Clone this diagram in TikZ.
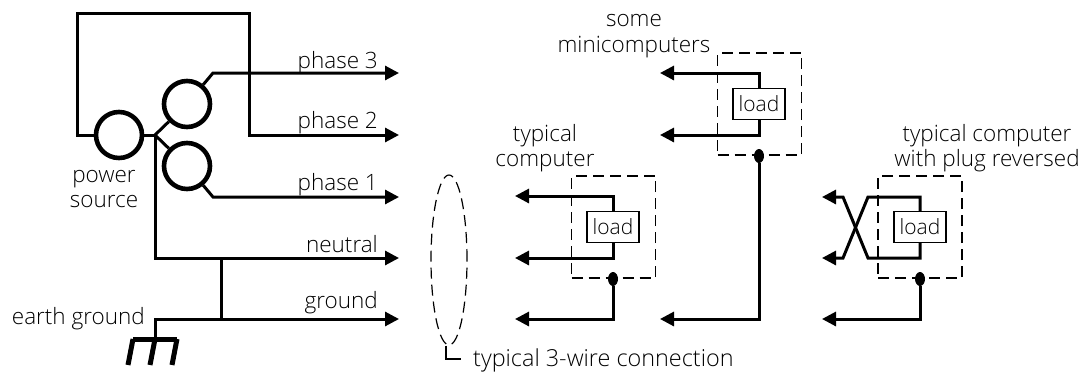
\documentclass[tikz,border=0pt]{standalone}
\usepackage{fontspec}
\setmainfont{Open Sans Light}
\usetikzlibrary{arrows.meta,shapes.geometric}

\begin{document}
\begin{tikzpicture}[
x=1pt,
y=-1pt,
wire/.style={
  line width=3pt
  },
source/.style={
  draw,
  circle,
  line width=4.6pt,
  minimum size=46pt,
  inner sep=0pt
  },
loadbox/.style={
  draw,
  fill=white,
  line width=1.2pt,
  minimum width=52pt,
  minimum height=31pt,
  inner sep=0pt,
  font=\fontsize{21}{21}\selectfont
  },
enclosure/.style={
  draw,
  dash pattern=on 11pt off 6pt,
  line width=1.2pt,
  minimum width=84pt,
  minimum height=102pt
  },
bond/.style={
  fill,
  ellipse,
  minimum width=10pt,
  minimum height=14pt,
  inner sep=0pt
  },
lbl/.style={
  font=\fontsize{22.5}{25.5}\selectfont,
  align=center,
  inner sep=0pt
  },
linelbl/.style={
  lbl,
  anchor=base east
  },
>={Triangle[length=14pt,width=14pt]}
]
\useasboundingbox (0,0) rectangle (1083,372);

% supply side
\node[source] (src) at (119,135) {};
\node[source] (coil3) at (187,104) {};
\node[source] (coil1) at (187,166) {};
\coordinate (star) at (155,135);
\coordinate (topl) at (77,13);
\coordinate (topr) at (249,13);
\coordinate (kn3) at (213,73);
\coordinate (kn1) at (213,197);
\coordinate (tap) at (221,258);
\coordinate (gnd) at (155,319);
\coordinate (earth) at (155,339);
\coordinate (out3) at (399,73);
\coordinate (out2) at (399,135);
\coordinate (out1) at (399,197);
\coordinate (outn) at (399,258);
\coordinate (outg) at (399,319);

\draw[wire,->] (src) -| (topl) -- (topr) |- (out2);
\draw[wire] (src) -- (star);
\draw[wire] (star) -- (coil3);
\draw[wire] (star) -- (coil1);
\draw[wire,->] (coil3) -- (kn3) -- (out3);
\draw[wire,->] (coil1) -- (kn1) -- (out1);
\draw[wire,->] (star) |- (outn);
\draw[wire,->] (earth) -- (gnd) -- (outg);
\draw[wire] (tap) -- (tap |- gnd);

% earth symbol
\coordinate (rake1) at (133,339);
\coordinate (rake2) at (155,339);
\coordinate (rake3) at (177,339);
\draw[line width=5pt] (rake1) -- (rake3);
\draw[line width=5pt] (rake1) -- ++(-5,26);
\draw[line width=5pt] (rake2) -- ++(-5,26);
\draw[line width=5pt] (rake3) -- ++(-5,26);

\node[linelbl] (ph3) at (378,68) {phase 3};
\node[linelbl] (ph2) at (378,128) {phase 2};
\node[linelbl] (ph1) at (378,190) {phase 1};
\node[linelbl] (neu) at (378,252) {neutral};
\node[linelbl] (grd) at (378,308) {ground};
\node[linelbl] (ear) at (145,324) {earth ground};
\node[lbl] (pow) at (104,189) {power\\source};

% the three loads
\foreach \nm/\lx/\tip/\ly in {typ/613/515/227,mini/759/660/104}
{
  \node[enclosure] (box\nm) at (\lx+.5,\ly) {};
  \node[loadbox] (load\nm) at (\lx,\ly) {load};
  \node[bond] (dot\nm) at (\lx,\ly+52) {};
  \coordinate (hi\nm) at (\tip,\ly-31);
  \coordinate (lo\nm) at (\tip,\ly+31);
  \coordinate (pe\nm) at (\tip,319);
  \draw[wire,->] (load\nm) |- (hi\nm);
  \draw[wire,->] (load\nm) |- (lo\nm);
  \draw[wire,->] (dot\nm) |- (pe\nm);
}

\node[enclosure] (boxrev) at (920,227) {};
\node[loadbox] (loadrev) at (920,227) {load};
\node[bond] (dotrev) at (920,279) {};
\coordinate (hirev) at (822,197);
\coordinate (lorev) at (822,258);
\coordinate (perev) at (822,319);
\draw[wire,->] (loadrev) |- (868,197) -- (843,258) -- (lorev);
\draw[wire,->] (loadrev) |- (868,258) -- (843,197) -- (hirev);
\draw[wire,->] (dotrev) |- (perev);

\node[lbl] (lblmini) at (634,36) {some\\minicomputers};
\node[lbl] (lbltyp) at (545,148) {typical\\computer};
\node[lbl] (lblrev) at (987,148) {typical computer\\with plug reversed};

% connection ring
\node[draw,ellipse,dash pattern=on 11pt off 6pt,line width=1.2pt,minimum width=36pt,minimum height=170pt,inner sep=0pt] (ring) at (449,260) {};
\coordinate (bend) at (446,359);
\coordinate (lead) at (461,359);
\draw[line width=1.2pt] (bend |- ring.south) -- (bend) -- (lead);
\node[lbl,anchor=west,font=\fontsize{23.4}{25.5}\selectfont] (lblwire) at (473,360) {typical 3-wire connection};

\end{tikzpicture}
\end{document}
